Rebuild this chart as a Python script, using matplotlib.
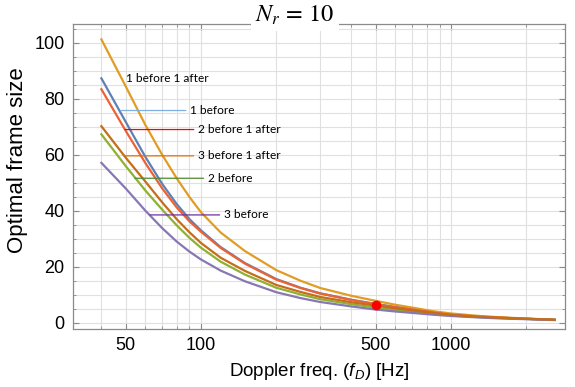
import matplotlib
matplotlib.use('Agg')
import matplotlib.pyplot as plt
from matplotlib.ticker import FixedLocator, FixedFormatter, NullFormatter

plt.rcParams['font.family'] = ['Liberation Sans', 'DejaVu Sans']
plt.rcParams['mathtext.fontset'] = 'custom'
plt.rcParams['mathtext.rm'] = 'Liberation Sans'
plt.rcParams['mathtext.it'] = 'Liberation Sans:italic'

# =====================================================
# DATA
# =====================================================

freq = [40, 50, 60, 70, 80, 90, 100, 120, 150, 200, 250, 300, 400, 500,
        600, 700, 850, 1000, 1300, 1600, 2000, 2600]

one_before = [87.3, 71.8, 59.2, 49.6, 42.4, 37.0, 33.0, 27.0, 21.3, 15.6, 12.5, 10.5,
              8.2, 6.7, 5.6, 4.8, 3.7, 2.9, 2.2, 1.8, 1.4, 1.05]
one_before_one_after = [101.2, 84.5, 70.6, 60.0, 51.6, 44.9, 39.5, 32.2, 25.6, 18.8, 15.0, 12.4,
                        9.6, 7.8, 6.4, 5.4, 4.1, 3.3, 2.4, 1.9, 1.5, 1.05]
two_before = [67.3, 56.0, 47.2, 40.4, 34.8, 30.3, 26.8, 21.8, 17.2, 12.5, 10.1, 8.4,
              6.6, 5.4, 4.5, 3.9, 3.1, 2.55, 2.0, 1.65, 1.35, 1.0]
two_before_one_after = [83.4, 68.6, 57.0, 48.0, 41.2, 36.2, 32.5, 26.7, 21.1, 15.4, 12.4, 10.4,
                        8.1, 6.6, 5.5, 4.7, 3.65, 2.85, 2.15, 1.75, 1.4, 1.0]
three_before = [57.1, 48.0, 40.0, 33.8, 29.0, 25.4, 22.6, 18.6, 14.8, 10.9, 8.8, 7.4,
                5.8, 4.7, 4.0, 3.5, 2.85, 2.4, 1.85, 1.5, 1.25, 0.95]
three_before_one_after = [70.2, 59.0, 50.4, 43.0, 37.0, 32.3, 28.5, 23.2, 18.5, 13.5, 11.0, 9.2,
                          7.3, 6.1, 5.1, 4.4, 3.5, 2.8, 2.1, 1.75, 1.4, 1.05]

# drawing order follows the original (last one ends on top)
curves = [one_before, one_before_one_after, two_before,
          two_before_one_after, three_before, three_before_one_after]
curve_colors = ['#5E81B5', '#E19C24', '#8FB032', '#EB6235', '#8778B3', '#C56E1A']

# callout labels: text, point on curve (freq, value), leader colour, gap to text [px]
label_text = ['1 before', '2 before 1 after', '3 before 1 after', '2 before', '3 before']
label_freq = [47.9, 49.7, 49.2, 54.4, 62.5]
label_value = [75.8, 69.0, 59.6, 51.6, 38.5]
label_colors = ['#7FAEE0', '#FF0000', '#E36C0A', '#4F8A2E', '#7030A0']
label_gap = [69, 73, 74, 73, 74]

top_label = '1 before 1 after'
top_label_pos = (50.1, 87.4)

marked_freq = [500]
marked_value = [6.3]

x_major = [50, 100, 500, 1000]
x_minor = [40, 60, 70, 80, 90, 200, 300, 400, 600, 700, 800, 900, 2000]
y_major = [0, 20, 40, 60, 80, 100]
y_minor = [5 * k for k in range(22)]

# =====================================================
# PLOT
# =====================================================

W, H = 575, 387
fig = plt.figure(figsize=(W / 100, H / 100), dpi=100)
ax = fig.add_axes([73 / W, 1 - 329 / H, (565 - 73) / W, (329 - 24) / H])

for vals, c in zip(curves, curve_colors):
    ax.plot(freq, vals, color=c, lw=1.6, zorder=3)

ax.plot(marked_freq, marked_value, 'o', color='red', ms=6, zorder=5)

for txt, lf, lv, lc, gap in zip(label_text, label_freq, label_value, label_colors, label_gap):
    ax.annotate(txt, xy=(lf, lv), xytext=(gap, 0), textcoords='offset pixels',
                ha='left', va='center', fontsize=8.6, family='Lato', zorder=6,
                arrowprops=dict(arrowstyle='-', color=lc, lw=0.9, shrinkA=1, shrinkB=0))

ax.text(top_label_pos[0], top_label_pos[1], top_label, ha='left', va='center',
        fontsize=8.6, family='Lato', zorder=6)

ax.set_xscale('log')
ax.set_xlim(30.8, 2858)
ax.set_ylim(-2.25, 106.7)

ax.xaxis.set_major_locator(FixedLocator(x_major))
ax.xaxis.set_major_formatter(FixedFormatter([str(v) for v in x_major]))
ax.xaxis.set_minor_locator(FixedLocator(x_minor))
ax.xaxis.set_minor_formatter(NullFormatter())
ax.yaxis.set_major_locator(FixedLocator(y_major))
ax.yaxis.set_minor_locator(FixedLocator(y_minor))

ax.tick_params(which='both', direction='in', top=True, right=True,
               color='#8a8a8a', labelsize=13)
ax.tick_params(which='major', length=4, width=0.8, pad=6)
ax.tick_params(which='minor', length=2.5, width=0.6)

ax.grid(True, which='both', color='#e0e0e0', lw=0.8)
ax.set_axisbelow(True)

for s in ax.spines.values():
    s.set_color('#8a8a8a')
    s.set_linewidth(0.9)

ax.set_xlabel('Doppler freq. ($f_D$) [Hz]', fontsize=13.5, labelpad=5)
ax.set_ylabel('Optimal frame size', fontsize=16)
ax.yaxis.set_label_coords(-0.092, 0.555)

fig.text(295 / W, 1 - 15 / H, r'$N_r\,=\,10$', ha='center', va='center', fontsize=17.5,
         math_fontfamily='stix', zorder=10,
         bbox=dict(facecolor='white', edgecolor='none', pad=3))

fig.savefig('out.png', dpi=100)
